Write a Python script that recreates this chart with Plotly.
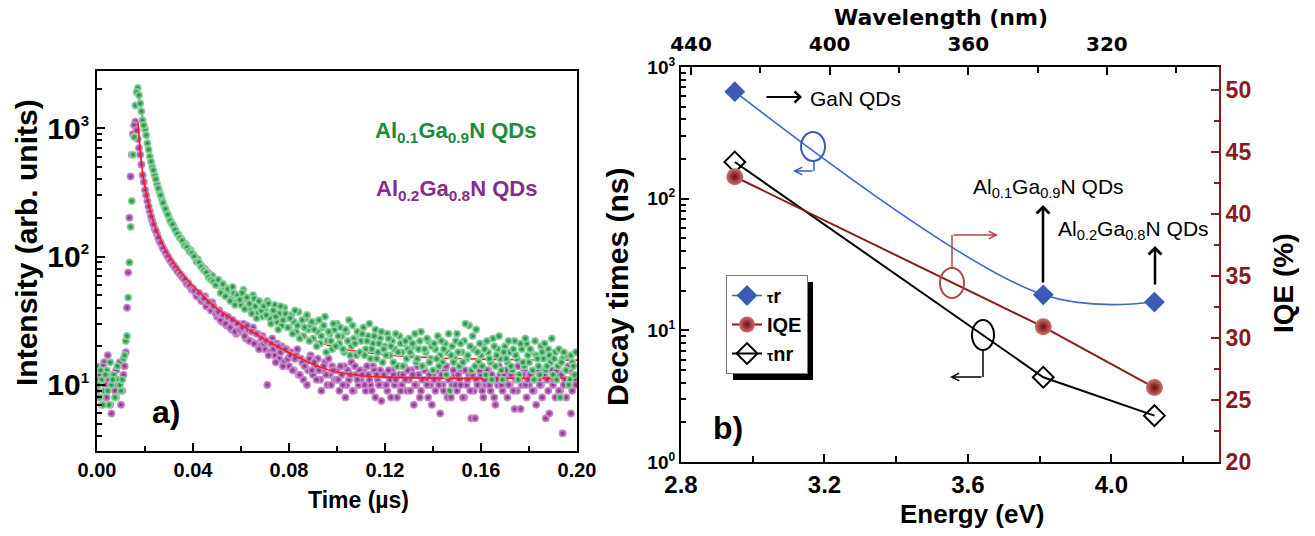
import numpy as np
import plotly.graph_objects as go

W, H = 1315, 536
def px(x): return x / W
def py(y): return 1 - y / H

# ---------------- panel a) data ----------------
# two interleaved acquisition grids: t = i*0.001 and t = i*0.001 + 0.0005 (us)
time_a_us = [round(i * 0.001, 4) for i in range(200)]
time_b_us = [round(i * 0.001 + 0.0005, 4) for i in range(200)]

green_a = [
    14, 8, 11, 9, 13, 7, 10, 12, 8, 11,
    9, 16, 22, 48, 170, 620, 1500, 2050, 1550, 1150,
    980, 760, 600, 500, 430, 365, 320, 280, 245, 222,
    200, 182, 170, 156, 148, 138, 128, 125, 116, 112,
    104, 98, 95, 86, 82, 80, 73, 70, 71, 63,
    60, 64, 55, 58, 50, 54, 47, 52, 44, 48,
    42, 55, 40, 46, 38, 50, 41, 36, 44, 34,
    39, 45, 33, 37, 42, 31, 36, 29, 40, 33,
    28, 35, 31, 26, 37, 30, 24, 33, 27, 29,
    23, 31, 26, 21, 28, 34, 22, 25, 19, 27,
    30, 21, 24, 18, 26, 32, 20, 23, 17, 25,
    22, 28, 19, 24, 16, 21, 27, 18, 23, 15,
    20, 25, 17, 22, 19, 14, 24, 18, 21, 16,
    23, 17, 20, 15, 19, 26, 14, 18, 22, 16,
    13, 19, 24, 17, 15, 21, 18, 9, 20, 16,
    25, 14, 18, 22, 16, 29, 13, 19, 27, 15,
    17, 21, 12, 18, 15, 23, 14, 19, 16, 11,
    20, 15, 18, 13, 22, 16, 12, 19, 14, 21,
    15, 18, 11, 17, 14, 20, 16, 13, 19, 15,
    12, 18, 14, 8, 16, 13, 17, 11, 15, 12,
]
green_b = [
    10, 13, 7, 12, 9, 15, 11, 8, 14, 10,
    11, 17, 24, 90, 270, 850, 1900, 1800, 1350, 1050,
    880, 680, 550, 470, 400, 340, 300, 262, 235, 212,
    190, 178, 162, 150, 140, 133, 122, 118, 110, 106,
    100, 91, 90, 83, 78, 75, 69, 66, 64, 60,
    66, 52, 61, 49, 56, 45, 58, 42, 50, 46,
    52, 39, 48, 43, 36, 47, 33, 45, 38, 41,
    35, 43, 30, 38, 34, 27, 41, 32, 36, 28,
    33, 25, 38, 29, 23, 32, 28, 35, 22, 31,
    27, 20, 32, 24, 29, 18, 26, 22, 30, 20,
    24, 28, 19, 27, 22, 17, 29, 21, 26, 18,
    25, 17, 22, 30, 19, 24, 16, 21, 26, 19,
    17, 23, 20, 15, 25, 18, 21, 14, 22, 19,
    18, 21, 25, 16, 22, 14, 19, 23, 15, 20,
    21, 16, 14, 22, 19, 12, 25, 17, 15, 22,
    18, 21, 15, 30, 17, 20, 24, 14, 18, 21,
    14, 19, 22, 16, 11, 20, 17, 24, 13, 18,
    16, 22, 14, 19, 17, 11, 21, 15, 23, 17,
    19, 13, 22, 16, 12, 18, 21, 14, 17, 23,
    16, 11, 19, 15, 18, 13, 10, 17, 14, 18,
]

purple_a = [
    9, 12, 7, 15, 8, 11, 6, 10, 13, 9,
    7, 12, 18, 75, 420, 900, 1120, 820, 620, 430,
    330, 270, 225, 190, 165, 150, 132, 122, 112, 104,
    96, 90, 85, 80, 75, 72, 68, 64, 62, 58,
    56, 52, 50, 47, 45, 49, 42, 40, 44, 38,
    34, 38, 31, 35, 29, 33, 27, 31, 25, 29,
    26, 30, 23, 27, 22, 28, 21, 25, 20, 24,
    19, 10, 18, 23, 17, 21, 16, 20, 15, 19,
    14, 18, 13, 17, 12, 16, 11, 15, 13, 17,
    12, 14, 16, 11, 13, 15, 10, 12, 14, 11,
    13, 9, 12, 14, 10, 11, 15, 9, 12, 10,
    11, 13, 9, 12, 10, 14, 8, 11, 13, 10,
    12, 9, 11, 13, 10, 8, 12, 10, 14, 9,
    11, 13, 7, 10, 12, 9, 14, 11, 8, 10,
    12, 9, 11, 6, 10, 13, 8, 11, 10, 12,
    9, 11, 13, 8, 10, 12, 5.5, 9, 11, 10,
    12, 8, 10, 13, 9, 11, 7, 10, 12, 9,
    11, 8, 10, 12, 6.5, 9, 11, 10, 13, 8,
    10, 12, 9, 7, 11, 10, 13, 5.5, 9, 11,
    10, 8, 12, 9, 4.2, 11, 10, 13, 9, 11,
]
purple_b = [
    11, 8, 14, 10, 17, 7, 12, 9, 11, 15,
    9, 14, 40, 200, 620, 1050, 960, 700, 520, 380,
    300, 245, 205, 178, 158, 140, 128, 116, 108, 100,
    93, 87, 82, 77, 73, 69, 66, 61, 59, 55,
    54, 49, 52, 45, 47, 41, 44, 38, 41, 36,
    37, 32, 35, 30, 34, 28, 32, 26, 30, 27,
    28, 24, 29, 22, 26, 21, 25, 19, 23, 21,
    22, 17, 21, 19, 15, 20, 18, 14, 19, 16,
    17, 13, 16, 19, 12, 15, 14, 10, 16, 13,
    15, 11, 13, 9, 14, 12, 16, 10, 13, 11,
    11, 14, 10, 8, 13, 12, 9, 14, 11, 13,
    12, 10, 14, 11, 9, 13, 12, 10, 7.5, 12,
    10, 13, 8, 12, 11, 14, 9, 12, 11, 13,
    9, 12, 10, 14, 8, 11, 13, 10, 12, 7,
    11, 13, 10, 12, 9, 14, 11, 8, 13, 10,
    12, 10, 8, 13, 11, 9, 12, 5.5, 10, 13,
    9, 11, 13, 10, 12, 8, 11, 14, 10, 12,
    13, 10, 12, 9, 11, 14, 6.5, 12, 10, 11,
    12, 9, 11, 13, 10, 8, 12, 11, 6, 13,
    11, 13, 9, 12, 10, 8, 14, 6, 12, 10,
]

fit_green_t = [0.0167, 0.018, 0.020, 0.022, 0.025, 0.030, 0.035, 0.040, 0.050,
               0.060, 0.070, 0.080, 0.090, 0.100, 0.120, 0.140, 0.160, 0.200]
fit_green_v = [2100, 1500, 1000, 700, 400, 215, 148, 110, 68,
               47, 35, 27.5, 22.5, 19.5, 17.2, 16.3, 15.9, 15.6]
fit_purple_t = [0.0171, 0.019, 0.021, 0.0234, 0.026, 0.029, 0.033, 0.0376, 0.043,
                0.048, 0.057, 0.071, 0.085, 0.092, 0.100, 0.110, 0.120, 0.140, 0.200]
fit_purple_v = [1100, 450, 285, 190, 142, 108, 84, 66, 52,
                42, 32, 22, 16, 14, 12.6, 11.8, 11.5, 11.3, 11.3]

# ---------------- panel b) data ----------------
energy_eV = [2.95, 3.81, 4.12]
tau_r_ns = [650, 18.6, 16.4]
iqe_pct = [43.0, 30.9, 26.0]
tau_nr_ns = [190, 4.4, 2.25]

wl_ticks = [440, 400, 360, 320]
wl_minor = [420, 380, 340, 300]

# ---------------- styling ----------------
ARIAL = "Liberation Sans, Arial, sans-serif"
DEJAVU = "DejaVu Sans, Verdana, sans-serif"
GREEN_C, GREEN_E = "#9fe0b2", "#138033"
PURP_C, PURP_E = "#d59bd6", "#7c237f"
BLUE = "#3a5ab5"
DRED = "#8b1a1a"

t_all = time_a_us + time_b_us
v_green = green_a + green_b
v_purple = purple_a + purple_b

fig = go.Figure()

# panel a
fig.add_trace(go.Scatter(x=t_all, y=v_purple, mode="markers", xaxis="x", yaxis="y",
                         marker=dict(size=8, color=PURP_C, gradient=dict(type="radial", color=PURP_E),
                                     line=dict(width=0)),
                         showlegend=False, hoverinfo="skip"))
fig.add_trace(go.Scatter(x=fit_purple_t, y=fit_purple_v, mode="lines", xaxis="x", yaxis="y",
                         line=dict(color="#ff1a1a", width=1.6, shape="spline"),
                         showlegend=False, hoverinfo="skip"))
fig.add_trace(go.Scatter(x=fit_green_t, y=fit_green_v, mode="lines", xaxis="x", yaxis="y",
                         line=dict(color="#ff1a1a", width=1.6, shape="spline"),
                         showlegend=False, hoverinfo="skip"))
fig.add_trace(go.Scatter(x=t_all, y=v_green, mode="markers", xaxis="x", yaxis="y",
                         marker=dict(size=8, color=GREEN_C, gradient=dict(type="radial", color=GREEN_E),
                                     line=dict(width=0)),
                         showlegend=False, hoverinfo="skip"))

# panel b
fig.add_trace(go.Scatter(x=energy_eV, y=tau_r_ns, mode="lines+markers", xaxis="x2", yaxis="y2",
                         name="<span style='font-size:14px'>τ</span>r",
                         line=dict(color="#4066c8", width=1.6, shape="spline", smoothing=1.0),
                         marker=dict(symbol="diamond", size=16, color=BLUE, line=dict(width=0))))
fig.add_trace(go.Scatter(x=energy_eV, y=iqe_pct, mode="lines+markers", xaxis="x2", yaxis="y3",
                         name="IQE",
                         line=dict(color=DRED, width=2),
                         marker=dict(symbol="circle", size=17, color="#d07070",
                                     gradient=dict(type="radial", color="#6e0c0c"), line=dict(width=0))))
fig.add_trace(go.Scatter(x=energy_eV, y=tau_nr_ns, mode="lines+markers", xaxis="x2", yaxis="y2",
                         name="<span style='font-size:14px'>τ</span>nr",
                         line=dict(color="black", width=2),
                         marker=dict(symbol="diamond-open", size=16, color="black", line=dict(width=2))))
fig.add_trace(go.Scatter(x=[None], y=[None], xaxis="x3", yaxis="y2", showlegend=False, hoverinfo="skip"))

def sup(base, e, size):
    return f"{base}<sup><span style='font-size:{size}px'>{e}</span></sup>"

log_minor_a = [4, 5, 6, 7, 8, 9, 20, 30, 40, 50, 60, 70, 80, 90,
               200, 300, 400, 500, 600, 700, 800, 900, 2000]
log_minor_b = [2, 3, 4, 5, 6, 7, 8, 9, 20, 30, 40, 50, 60, 70, 80, 90,
               200, 300, 400, 500, 600, 700, 800, 900]

common = dict(showgrid=False, zeroline=False, showline=True, linecolor="black", linewidth=2,
              ticks="inside", ticklen=8, tickwidth=2, tickcolor="black", automargin=False)

fig.update_layout(
    width=W, height=H, margin=dict(l=0, r=0, t=0, b=0, autoexpand=False),
    paper_bgcolor="white", plot_bgcolor="rgba(0,0,0,0)",
    xaxis=dict(domain=[px(97), px(577)], range=[0, 0.2], anchor="y", mirror=True,
               tickvals=[0, 0.04, 0.08, 0.12, 0.16, 0.20],
               ticktext=["0.00", "0.04", "0.08", "0.12", "0.16", "0.20"],
               tickfont=dict(family=ARIAL, size=20, color="black", weight="bold"),
               minor=dict(tickvals=[0.02, 0.06, 0.10, 0.14, 0.18], ticks="inside", ticklen=5,
                          tickwidth=2, tickcolor="black"),
               **common),
    yaxis=dict(domain=[py(451), py(71)], type="log", range=[0.486, 3.444], anchor="x", mirror=True,
               tickvals=[10, 100, 1000],
               ticktext=[sup("10", 1, 15), sup("10", 2, 15), sup("10", 3, 15)],
               tickfont=dict(family=ARIAL, size=30, color="black", weight="bold"),
               minor=dict(tickvals=log_minor_a, ticks="inside", ticklen=5, tickwidth=1.5,
                          tickcolor="black"),
               **common),
    xaxis2=dict(domain=[px(681), px(1219)], range=[2.8, 4.3], anchor="y2",
                tickvals=[2.8, 3.2, 3.6, 4.0], ticktext=["2.8", "3.2", "3.6", "4.0"],
                tickfont=dict(family=ARIAL, size=24, color="black", weight="bold"),
                minor=dict(tickvals=[3.0, 3.4, 3.8, 4.2], ticks="inside", ticklen=6,
                           tickwidth=2, tickcolor="black"),
                **common),
    yaxis2=dict(domain=[py(462), py(67)], type="log", range=[0, 3], anchor="x2",
                tickvals=[1, 10, 100, 1000],
                ticktext=[sup("10", 0, 12), sup("10", 1, 12), sup("10", 2, 12), sup("10", 3, 12)],
                tickfont=dict(family=ARIAL, size=19, color="black", weight="bold"),
                minor=dict(tickvals=log_minor_b, ticks="inside", ticklen=5, tickwidth=1.5,
                           tickcolor="black"),
                **common),
    xaxis3=dict(overlaying="x2", side="top", anchor="y2", range=[442.9, 287.65],
                tickvals=wl_ticks, ticktext=[str(v) for v in wl_ticks],
                tickfont=dict(family=DEJAVU, size=20, color="black", weight="bold"),
                minor=dict(tickvals=wl_minor, ticks="inside", ticklen=6, tickwidth=2,
                           tickcolor="black"),
                ticklabelstandoff=6,
                **common),
    yaxis3=dict(overlaying="y2", side="right", anchor="x2", range=[20, 51.85],
                tickvals=[20, 25, 30, 35, 40, 45, 50],
                tickfont=dict(family=ARIAL, size=23, color=DRED, weight="bold"),
                minor=dict(tickvals=[22.5, 27.5, 32.5, 37.5, 42.5, 47.5], ticks="inside",
                           ticklen=5, tickwidth=2, tickcolor=DRED),
                showgrid=False, zeroline=False, showline=True, linecolor=DRED, linewidth=2,
                ticks="inside", ticklen=8, tickwidth=2, tickcolor=DRED, automargin=False),
    legend=dict(x=px(726), y=py(275), xanchor="left", yanchor="top",
                bgcolor="white", bordercolor="#777777", borderwidth=1,
                font=dict(family=ARIAL, size=20, color="black", weight="bold"),
                itemwidth=30, tracegroupgap=0),
)

shapes = [
    # legend shadow
    dict(type="rect", xref="paper", yref="paper", x0=px(733), x1=px(813), y0=py(380), y1=py(282),
         fillcolor="black", line=dict(width=0), layer="below"),
    # ellipses
    dict(type="circle", xref="paper", yref="paper", x0=px(801), x1=px(825), y0=py(161), y1=py(132),
         line=dict(color=BLUE, width=2)),
    dict(type="circle", xref="paper", yref="paper", x0=px(940), x1=px(964), y0=py(298), y1=py(268),
         line=dict(color="#b04545", width=2)),
    dict(type="circle", xref="paper", yref="paper", x0=px(972), x1=px(994), y0=py(350), y1=py(320),
         line=dict(color="black", width=2)),
    # bracket lines
    dict(type="line", xref="paper", yref="paper", x0=px(814), x1=px(814), y0=py(161), y1=py(171),
         line=dict(color=BLUE, width=1.5)),
    dict(type="line", xref="paper", yref="paper", x0=px(952), x1=px(952), y0=py(268), y1=py(235),
         line=dict(color="#b04545", width=1.5)),
    dict(type="line", xref="paper", yref="paper", x0=px(983), x1=px(983), y0=py(350), y1=py(377),
         line=dict(color="black", width=1.5)),
]
fig.update_layout(shapes=shapes)

def arrow(hx, hy, tx, ty, color, width, head=5, size=1.0):
    return dict(x=px(hx), y=py(hy), xref="paper", yref="paper", ax=tx - hx, ay=ty - hy,
                text="", showarrow=True, arrowhead=head, arrowsize=size, arrowwidth=width,
                arrowcolor=color)

def label(x, y, text, size, color="black", family=ARIAL, weight="bold", angle=0):
    return dict(x=px(x), y=py(y), xref="paper", yref="paper", text=text, showarrow=False,
                xanchor="center", yanchor="middle", textangle=angle,
                font=dict(family=family, size=size, color=color, weight=weight))

ann = [
    arrow(802, 97, 765, 97, "black", 2, head=4, size=1.1),
    arrow(793, 171, 814, 171, BLUE, 1.5, head=5),
    arrow(998, 235, 952, 235, "#b04545", 1.5, head=5),
    arrow(950, 377, 983, 377, "black", 1.5, head=5),
    arrow(1043, 205, 1043, 284, "black", 2.5, head=4, size=1.0),
    arrow(1155, 246, 1155, 286, "black", 2.5, head=4, size=1.0),
    label(855, 99, "GaN QDs", 21, weight="normal"),
    label(1048, 188, "Al<sub>0.1</sub>Ga<sub>0.9</sub>N QDs", 21, weight="normal"),
    label(1133, 230, "Al<sub>0.2</sub>Ga<sub>0.8</sub>N QDs", 21, weight="normal"),
    label(455, 132, "Al<sub>0.1</sub>Ga<sub>0.9</sub>N QDs", 22, color="#1d8a3c"),
    label(456, 190, "Al<sub>0.2</sub>Ga<sub>0.8</sub>N QDs", 22, color="#862c8a"),
    label(166, 412, "a)", 32),
    label(728, 428, "b)", 32),
    label(26, 243, "Intensity (arb. units)", 30, angle=-90),
    label(358, 500, "Time (µs)", 23),
    label(617, 287, "Decay times (ns)", 30, angle=-90),
    label(1283, 283, "IQE (%)", 28, angle=-90),
    label(972, 514, "Energy (eV)", 26),
    label(941, 17, "Wavelength (nm)", 22, family=DEJAVU),
]
fig.update_layout(annotations=ann)

fig.write_html("out.html", config={"displayModeBar": False},
               post_script="document.body.style.margin='0px';")
